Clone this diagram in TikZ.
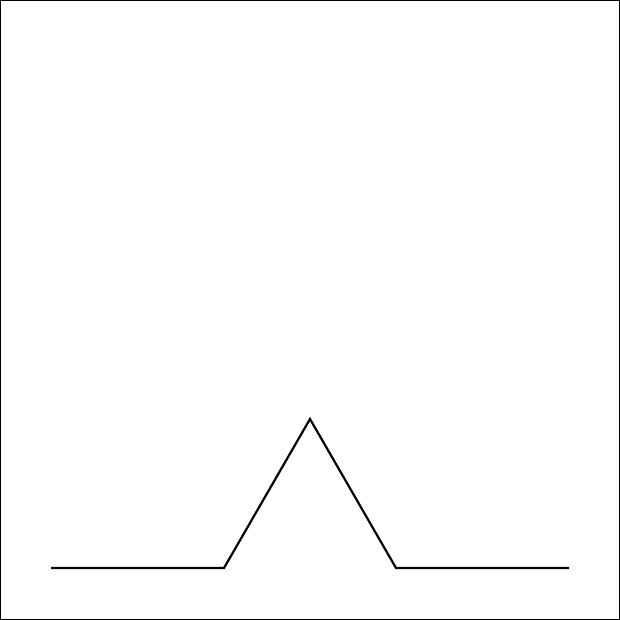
\documentclass[tikz,border=0pt]{standalone}
\begin{document}
\begin{tikzpicture}[x=1pt,y=-1pt,
  frame/.style={draw=black,line width=1pt},
  curve/.style={draw=black,line width=2.2pt,line join=miter}]
\useasboundingbox (0,0) rectangle (620,620);
\draw[frame] (0.5,0.5) rectangle (619.5,619.5);
\coordinate (p0) at (51,568);
\coordinate (p1) at (224,568);
\coordinate (p2) at (310,419);
\coordinate (p3) at (396,568);
\coordinate (p4) at (569,568);
\draw[curve] (p0) -- (p1) -- (p2) -- (p3) -- (p4);
\end{tikzpicture}
\end{document}
